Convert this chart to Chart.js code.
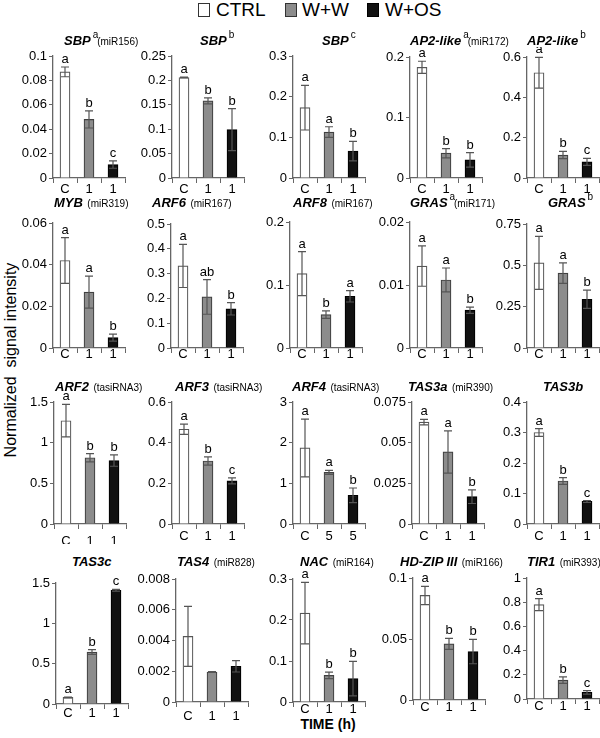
<!DOCTYPE html>
<html><head><meta charset="utf-8">
<script src="https://cdn.jsdelivr.net/npm/chart.js@4.4.1/dist/chart.umd.min.js"></script>
<style>
html,body{margin:0;padding:0;background:#fff;}
body{width:600px;height:738px;position:relative;overflow:hidden;font-family:"Liberation Sans",Arial,sans-serif;color:#000;}
canvas{position:absolute;}
.title{position:absolute;text-align:left;white-space:nowrap;line-height:16px;height:16px;}
.gene{font-weight:bold;font-style:italic;font-size:13px;}
.sup{font-size:10px;position:relative;top:-7px;margin-left:2px;}
.sup0{display:inline-block;width:0;overflow:visible;}
.note{font-size:10px;}
.lgbox{position:absolute;top:3px;width:12px;height:14px;box-sizing:border-box;border:1px solid #333;}
.lgtxt{position:absolute;top:0;font-size:19px;line-height:20px;}
#ytitle{position:absolute;left:11px;top:360px;font-size:16px;line-height:18px;white-space:pre;transform:translate(-50%,-50%) rotate(-90deg);}
#xtitle{position:absolute;left:328px;top:724px;font-size:14px;font-weight:bold;line-height:16px;transform:translate(-50%,-50%);white-space:nowrap;}
</style></head>
<body>
<div class="lgbox" style="left:198px;background:#fff"></div><div class="lgtxt" style="left:216px">CTRL</div>
<div class="lgbox" style="left:285px;background:#8c8c8c"></div><div class="lgtxt" style="left:302px">W+W</div>
<div class="lgbox" style="left:367px;background:#111;border-color:#000"></div><div class="lgtxt" style="left:385px">W+OS</div>
<div id="ytitle">Normalized  signal intensity</div>
<div id="xtitle">TIME (h)</div>
<script>
// ---------- data ----------
const genes = ['SBP','SBP','SBP','AP2-like','AP2-like','MYB','ARF6','ARF8','GRAS','GRAS','ARF2','ARF3','ARF4','TAS3a','TAS3b','TAS3c','TAS4','NAC','HD-ZIP III','TIR1'];
const geneSup = ['a','b','c','a','b','','','','a','b','','','','','','','','','',''];
const smallRNA = ['(miR156)','','','(miR172)','','(miR319)','(miR167)','(miR167)','(miR171)','','(tasiRNA3)','(tasiRNA3)','(tasiRNA3)','(miR390)','','','(miR828)','(miR164)','(miR166)','(miR393)'];
const ctrlLabel = 'C';
const timeLabels = ['1','1','1','1','1','1','1','1','1','1','1','1','5','1','1','1','1','1','1','1'];

const ctrlMean = [0.087,0.206,0.173,0.183,0.522, 0.042,0.331,0.118,0.013,0.515, 1.27,0.466,1.87,0.0626,0.300, 0.082,0.00427,0.217,0.0857,0.78];
const ctrlErr  = [0.004,0.001,0.055,0.010,0.076, 0.011,0.087,0.035,0.0032,0.16, 0.2,0.025,0.71,0.0017,0.013, 0.005,0.00195,0.075,0.0075,0.05];
const wwMean   = [0.048,0.158,0.113,0.041,0.114, 0.0268,0.206,0.053,0.0108,0.453, 0.815,0.31,1.27,0.0443,0.141, 0.644,0.00195,0.065,0.046,0.156];
const wwErr    = [0.007,0.006,0.013,0.0077,0.018, 0.0077,0.07,0.006,0.0019,0.062, 0.05,0.02,0.05,0.013,0.011, 0.03,0.00002,0.008,0.0045,0.027];
const wosMean  = [0.011,0.099,0.066,0.030,0.08, 0.005,0.158,0.082,0.006,0.295, 0.78,0.212,0.705,0.0168,0.074, 1.41,0.00232,0.057,0.0397,0.055];
const wosErr   = [0.003,0.043,0.024,0.012,0.017, 0.0017,0.025,0.009,0.0005,0.055, 0.07,0.015,0.18,0.0042,0.003, 0.01,0.00037,0.042,0.01,0.015];

const ctrlLetter = ['a','a','a','a','a', 'a','a','a','a','a', 'a','a','a','a','a', 'a','','a','a','a'];
const wwLetter   = ['b','b','a','b','b', 'a','ab','b','a','a', 'b','b','a','a','b', 'b','','b','b','b'];
const wosLetter  = ['c','b','b','b','c', 'b','b','a','b','b', 'b','c','b','b','c', 'c','','b','b','c'];

const yTickLabels = [
  ['0','0.02','0.04','0.06','0.08','0.1'], ['0','0.05','0.1','0.15','0.2','0.25'], ['0','0.1','0.2','0.3'], ['0','0.1','0.2'], ['0','0.2','0.4','0.6'],
  ['0','0.02','0.04','0.06'], ['0','0.1','0.2','0.3','0.4','0.5'], ['0','0.1','0.2'], ['0','0.01','0.02'], ['0','0.25','0.5','0.75'],
  ['0','0.5','1','1.5'], ['0','0.2','0.4','0.6'], ['0','1','2','3'], ['0','0.025','0.05','0.075'], ['0','0.1','0.2','0.3','0.4'],
  ['0','0.5','1','1.5'], ['0','0.002','0.004','0.006','0.008'], ['0','0.1','0.2','0.3'], ['0','0.05','0.1'], ['0','0.2','0.4','0.6','0.8','1']
];

// ---------- layout ----------
const plotLeft = [53,172,293,410,527, 53,171,290,410,527, 54,172,293,412,527, 56,176,293,413,527];
const plotTop  = [56,56,56,57,57, 223,224,222,222,224, 402,402,402,402,402, 583,579,579,578,578];
const plotZero = [178,178,178,178,178, 348,348,348,348,348, 524,524,524,524,524, 704,702,702,700,699];
const titleX   = [64,200,322,410,527, 54,152,293,410,548, 55,175,292,408,543, 72,177,300,400,527];
const titleY   = [40,40,40,40,40, 202,202,202,202,202, 386,386,386,386,386, 561,561,561,561,561];
const xPad     = [-1,-1,-1,-1,-1, -6,-6,-6,-6,-6, 5,0,0,0,0, -3,2,-5,-5,-5];
const PLOT_W = 72, YAXIS_W = 50, PAD_TOP = 10, XAXIS_H = 20;
const FONT = '"Liberation Sans", Arial, sans-serif';
const fillCols = ['#ffffff','#8c8c8c','#111111'];
const edgeCols = ['#555555','#404040','#000000'];

const errPlugin = {
  id: 'errLetters',
  afterDatasetsDraw(chart) {
    const p = chart.options.plugins.errLetters;
    const meta = chart.getDatasetMeta(0);
    const ys = chart.scales.y;
    const ctx = chart.ctx;
    ctx.save();
    meta.data.forEach((bar, i) => {
      const m = p.means[i], e = p.errs[i];
      const yt = ys.getPixelForValue(m + e), yb = ys.getPixelForValue(Math.max(m - e, 0));
      ctx.strokeStyle = '#555'; ctx.lineWidth = 1.2;
      ctx.beginPath();
      ctx.moveTo(bar.x, yt); ctx.lineTo(bar.x, yb);
      ctx.moveTo(bar.x - 4, yt); ctx.lineTo(bar.x + 4, yt);
      ctx.moveTo(bar.x - 4, yb); ctx.lineTo(bar.x + 4, yb);
      ctx.stroke();
      if (p.letters[i]) {
        ctx.fillStyle = '#000';
        ctx.font = '13px ' + FONT;
        ctx.textAlign = 'center';
        ctx.textBaseline = 'alphabetic';
        ctx.fillText(p.letters[i], bar.x, yt - 4);
      }
    });
    ctx.restore();
  }
};

for (let k = 0; k < genes.length; k++) {
  const cv = document.createElement('canvas');
  const h = Math.round(PAD_TOP + (plotZero[k] - plotTop[k]) + XAXIS_H);
  const w = YAXIS_W + PLOT_W + 2;
  cv.width = w; cv.height = h;
  cv.style.left = (plotLeft[k] - YAXIS_W) + 'px';
  cv.style.top = (plotTop[k] - PAD_TOP) + 'px';
  document.body.appendChild(cv);

  // title
  const t = document.createElement('div');
  t.className = 'title';
  t.style.left = titleX[k] + 'px';
  t.style.top = (titleY[k] - 8) + 'px';
  let html = '<span class="gene">' + genes[k] + '</span>';
  if (geneSup[k]) html += '<span class="sup' + (smallRNA[k] ? ' sup0' : '') + '">' + geneSup[k] + '</span>';
  if (smallRNA[k]) html += (geneSup[k] ? '&nbsp;' : ' ') + '<span class="note">' + smallRNA[k] + '</span>';
  t.innerHTML = html;
  document.body.appendChild(t);

  const tickVals = yTickLabels[k].map(parseFloat);
  const tickLbls = yTickLabels[k];
  new Chart(cv, {
    type: 'bar',
    data: {
      labels: [ctrlLabel, timeLabels[k], timeLabels[k]],
      datasets: [{
        data: [ctrlMean[k], wwMean[k], wosMean[k]],
        backgroundColor: fillCols,
        borderColor: edgeCols,
        borderWidth: 1.2,
        barThickness: 10
      }]
    },
    plugins: [errPlugin],
    options: {
      responsive: false, animation: false, devicePixelRatio: 1,
      layout: { padding: { top: PAD_TOP, left: 0, right: 2, bottom: 0 } },
      plugins: {
        legend: { display: false }, tooltip: { enabled: false },
        errLetters: {
          means: [ctrlMean[k], wwMean[k], wosMean[k]],
          errs: [ctrlErr[k], wwErr[k], wosErr[k]],
          letters: [ctrlLetter[k], wwLetter[k], wosLetter[k]]
        }
      },
      scales: {
        x: {
          offset: true,
          grid: { display: true, drawOnChartArea: false, drawTicks: true, tickLength: 5, color: '#666', offset: true },
          border: { display: true, color: '#666', width: 1.3 },
          ticks: { color: '#000', font: { family: FONT, size: 13 }, padding: xPad[k], maxRotation: 0, autoSkip: false },
          afterFit(s) { s.height = XAXIS_H; }
        },
        y: {
          min: 0, max: tickVals[tickVals.length - 1],
          grid: { drawOnChartArea: false, drawTicks: true, tickLength: 4, color: '#666' },
          border: { display: true, color: '#666', width: 1.3 },
          ticks: { color: '#000', font: { family: FONT, size: 13 }, padding: 2,
                   callback: (v, i) => tickLbls[i] },
          afterBuildTicks(s) { s.ticks = tickVals.map(v => ({ value: v })); },
          afterFit(s) { s.width = YAXIS_W; }
        }
      }
    }
  });
}
</script>
</body></html>
